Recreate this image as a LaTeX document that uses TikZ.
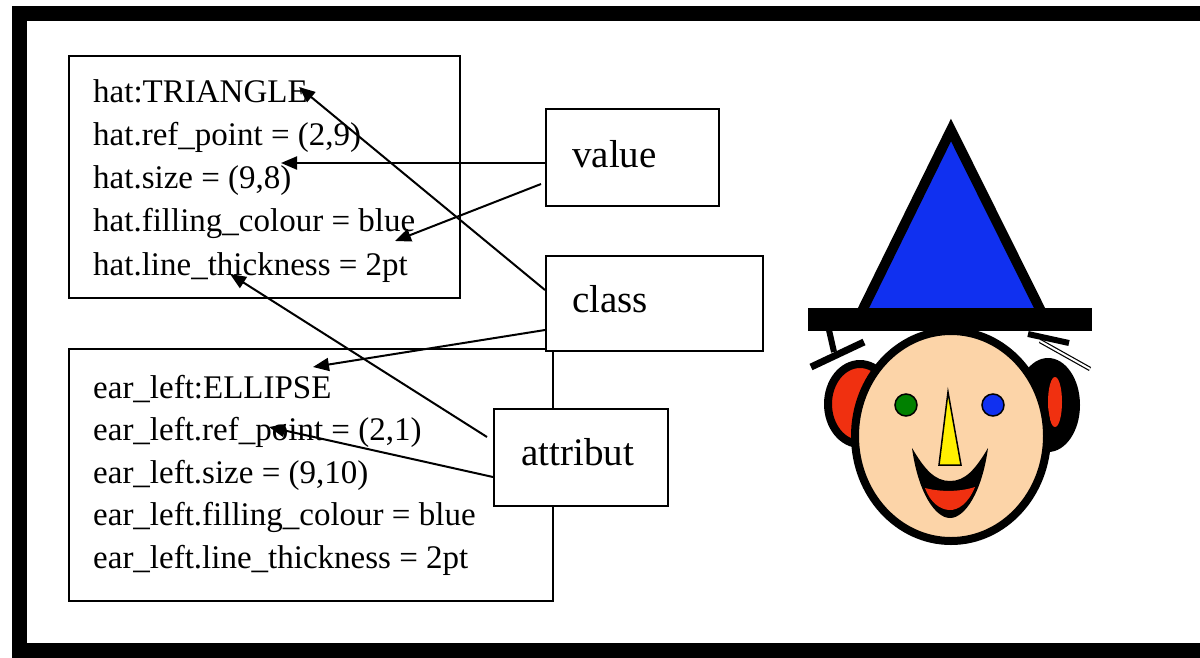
\documentclass[tikz,border=0pt]{standalone}
\usepackage{fontspec}
\setmainfont{Liberation Serif}
\usetikzlibrary{arrows.meta,calc}
\definecolor{hatblue}{RGB}{16,48,240}
\definecolor{skin}{RGB}{252,212,168}
\definecolor{lipred}{RGB}{240,48,16}
\definecolor{eyegreen}{RGB}{0,128,0}
\definecolor{noseyellow}{RGB}{255,240,0}
\begin{document}
\begin{tikzpicture}[x=1pt,y=-1pt,
  box/.style={draw, line width=2pt, inner sep=0pt, anchor=north west},
  lbl/.style={draw, line width=2pt, fill=white, inner sep=0pt, anchor=north west},
  item/.style={anchor=base west, inner sep=0pt, font=\fontsize{33}{40}\selectfont},
  tag/.style={anchor=base west, inner sep=0pt, font=\fontsize{39}{46}\selectfont},
  pointer/.style={line width=2pt, -{Triangle[length=16pt,width=13pt]}},
  thin outline/.style={draw, line width=1.5pt}
]
\clip (0,0) rectangle (1200,657);
\fill[white] (0,0) rectangle (1200,657);

% outer frame (its right side runs off the page)
\draw[line width=15pt] (19,13) rectangle (1240,650);

% attribute lists of the two objects
\node[box, minimum width=391pt, minimum height=242pt] (hatbox) at (68,55) {};
\node[box, minimum width=484pt, minimum height=252pt] (earbox) at (68,348) {};
\foreach \t [count=\i] in {hat:TRIANGLE, {hat.ref\_point = (2,9)}, {hat.size = (9,8)},
    {hat.filling\_colour = blue}, {hat.line\_thickness = 2pt}}
  \node[item] (hat\i) at (93,{102+43.3*(\i-1)}) {\t};
\foreach \t [count=\i] in {ear\_left:ELLIPSE, {ear\_left.ref\_point = (2,1)}, {ear\_left.size = (9,10)},
    {ear\_left.filling\_colour = blue}, {ear\_left.line\_thickness = 2pt}}
  \node[item] (ear\i) at (93,{398+42.5*(\i-1)}) {\t};

% label boxes
\node[lbl, minimum width=173pt, minimum height=97pt] (value) at (545,108) {};
\node[tag] (valuetxt) at (572,167) {value};
\node[lbl, minimum width=217pt, minimum height=95pt] (class) at (545,255) {};
\node[tag] (classtxt) at (572,312) {class};
\node[lbl, minimum width=174pt, minimum height=97pt] (attribut) at (493,408) {};
\node[tag] (attributtxt) at (521,465) {attribut};

% connector end points
\coordinate (c1) at ($(class.north west)+(0,35)$);
\coordinate (c2) at ($(class.north west)+(0,75)$);
\coordinate (v1) at ($(value.north west)+(0,55)$);
\coordinate (v2) at ($(value.north west)+(-4,76)$);
\coordinate (r1) at ($(attribut.north west)+(-6,29)$);
\coordinate (r2) at ($(attribut.north west)+(0,69)$);
\coordinate (t1) at (299,87);
\coordinate (t2) at (281,163);
\coordinate (t3) at (395,241);
\coordinate (t4) at (230,274);
\coordinate (t5) at (313,367);
\coordinate (t6) at (269,427);

\draw[pointer] (c1) -- (t1);
\draw[pointer] (v1) -- (t2);
\draw[pointer] (v2) -- (t3);
\draw[pointer] (r1) -- (t4);
\draw[pointer] (c2) -- (t5);
\draw[pointer] (r2) -- (t6);

% the clown: ears
\draw[line width=8pt, fill=lipred] (860,404) ellipse [x radius=32, y radius=40];
\fill (1048,405) ellipse [x radius=32, y radius=47];
\fill[lipred] (1055,402) ellipse [x radius=7, y radius=25];
% hair
\draw[line width=7pt] (811,367) -- (864,342);
\draw[line width=6pt] (829,330) -- (834,352);
\draw[line width=6pt] (1028,334) -- (1069,343);
\draw[line width=1.2pt, double, double distance=2pt] (1040,341) -- (1090,369);
% face
\draw[line width=8pt, fill=skin] (951,436) ellipse [x radius=96, y radius=105];
% hat and brim
\draw[line width=10pt, fill=hatblue, line join=miter] (951,130) -- (1042,313) -- (861,313) -- cycle;
\fill (808,308) rectangle (1092,331);
% eyes and nose
\draw[thin outline, fill=eyegreen] (906,405) circle [radius=11];
\draw[thin outline, fill=hatblue] (993,405) circle [radius=11];
\draw[thin outline, fill=noseyellow, line join=miter] (948,392) -- (961,465) -- (939,465) -- cycle;
% mouth
\fill (912,448) .. controls (918,492) and (935,518) .. (950,518)
  .. controls (965,518) and (982,492) .. (988,448)
  .. controls (975,470) and (965,481) .. (950,481)
  .. controls (935,481) and (925,470) .. (912,448) -- cycle;
\fill[lipred] (925,488) .. controls (940,492) and (960,492) .. (975,487)
  .. controls (968,504) and (958,510) .. (950,510)
  .. controls (940,510) and (930,502) .. (925,488) -- cycle;
\end{tikzpicture}
\end{document}
